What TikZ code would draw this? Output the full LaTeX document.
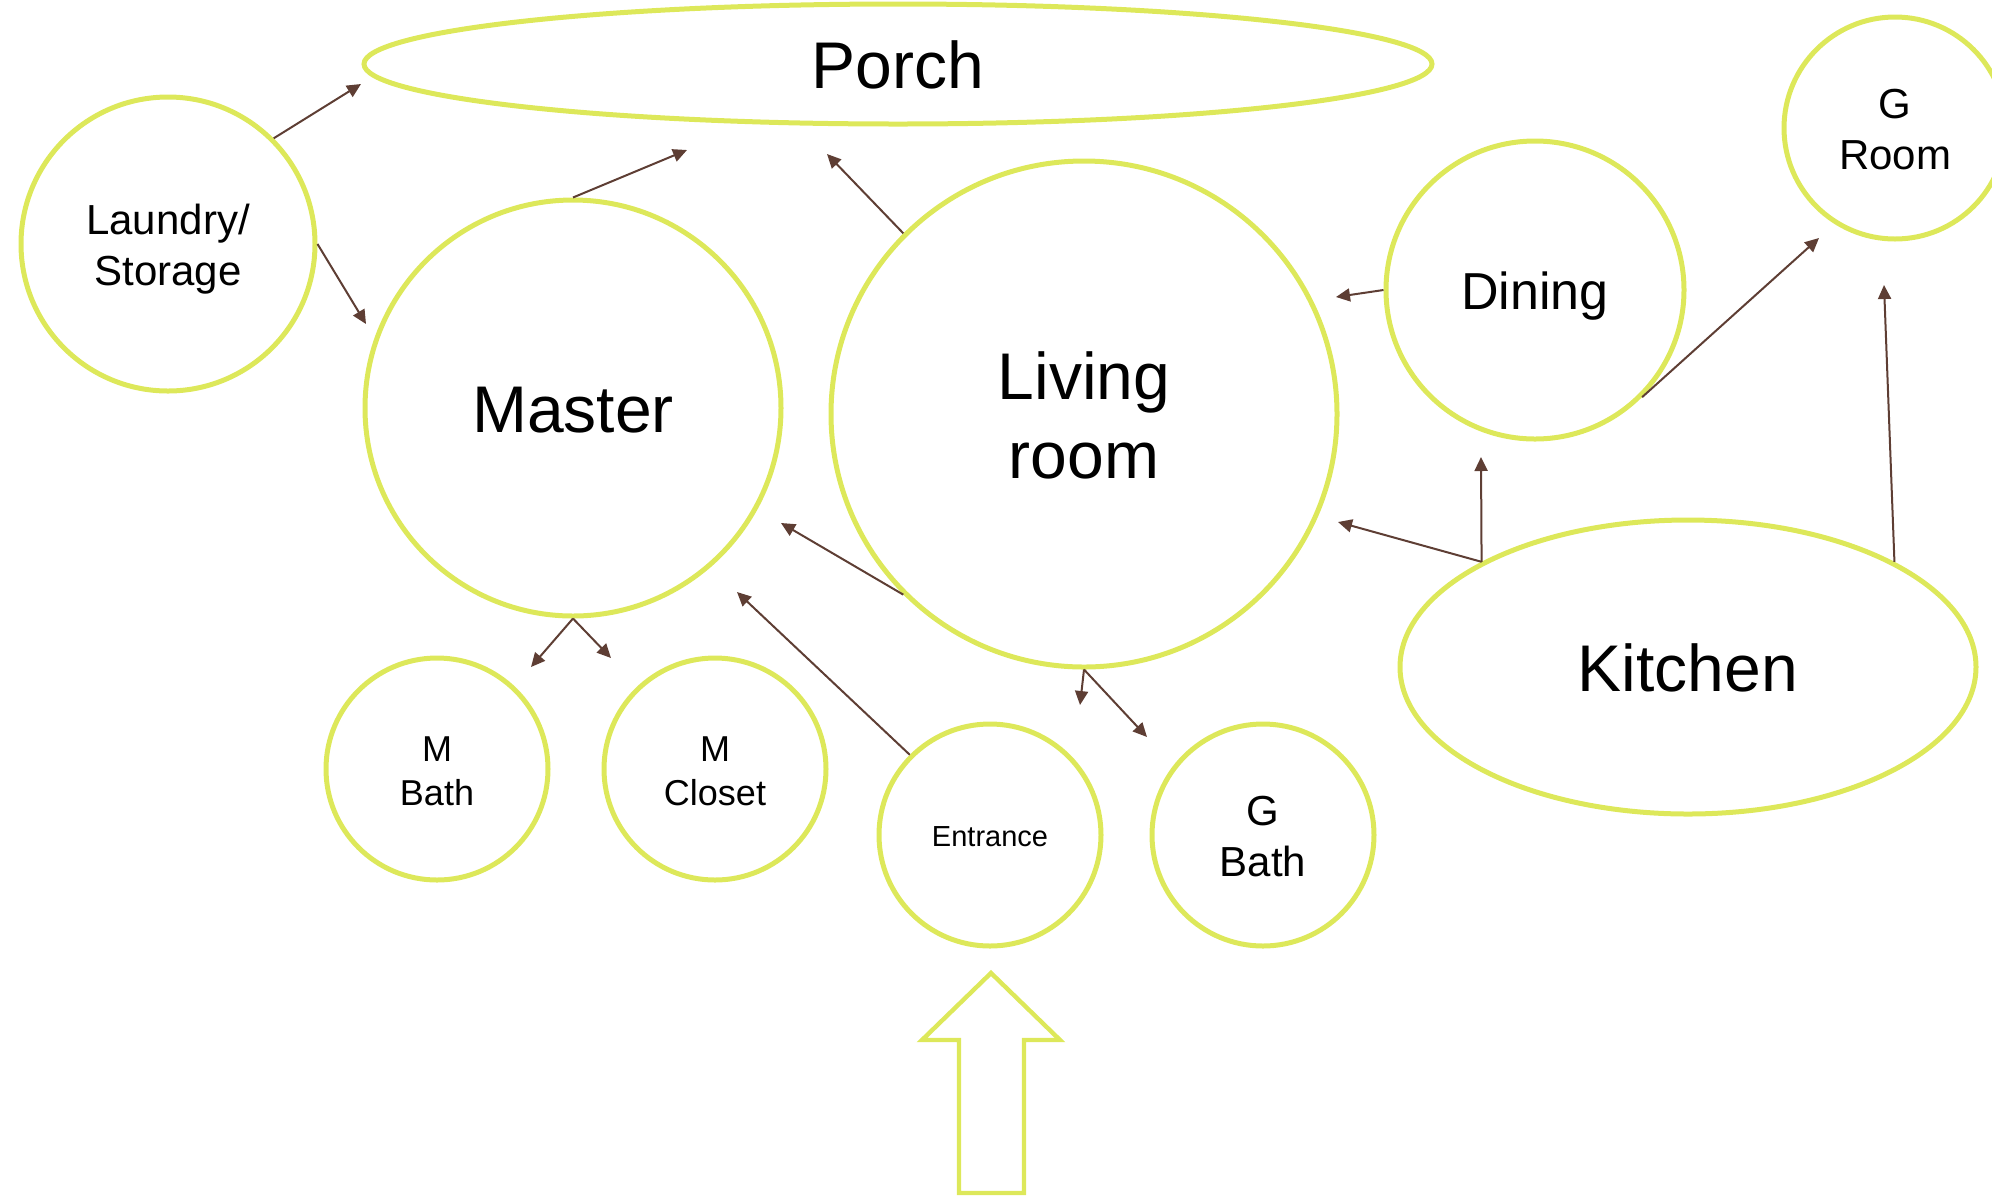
\documentclass[tikz,border=0pt]{standalone}
\usepackage{fontspec}
\setmainfont{Liberation Sans}
\usetikzlibrary{arrows.meta,shapes.geometric}
\definecolor{roomgreen}{RGB}{221,232,90}
\definecolor{linkbrown}{RGB}{94,62,52}
\tikzset{
  room/.style={circle, draw=roomgreen, line width=2.5pt, align=center, inner sep=0pt, text=black},
  oval/.style={ellipse, draw=roomgreen, line width=2.5pt, align=center, inner sep=0pt, text=black},
  link/.style={draw=linkbrown, line width=1pt, -{Triangle[length=7pt,width=6.5pt]}},
  big/.style={font=\fontsize{33}{39.5}\selectfont, text height=31.9pt, text depth=7.0pt},
  bigtwo/.style={font=\fontsize{33}{39.5}\selectfont, text height=71pt, text depth=7.0pt},
  mid/.style={font=\fontsize{26}{31}\selectfont, text height=25pt, text depth=5.5pt},
  norm/.style={font=\fontsize{21}{25.5}\selectfont, text height=46pt, text depth=4.45pt},
  small/.style={font=\fontsize{18}{22}\selectfont, text height=39.8pt, text depth=3.8pt},
  tiny/.style={font=\fontsize{14.5}{17}\selectfont, text height=14.1pt, text depth=3.1pt},
}
\begin{document}
\begin{tikzpicture}[x=0.5pt,y=-0.5pt]
\useasboundingbox (0,0) rectangle (1992,1196);
\clip (0,0) rectangle (1992,1196);
% rooms
\node[oval, big, minimum width=534pt, minimum height=60pt] (porch) at (898,64) {Porch};
\node[room, norm, minimum size=147pt] (laundry) at (168,244) {Laundry/\\Storage};
\node[room, big, minimum size=208pt] (master) at (573,408) {Master};
\node[room, bigtwo, minimum size=253pt] (living) at (1084,414) {Living\\room};
\node[room, mid, minimum size=149pt] (dining) at (1535,290) {Dining};
\node[room, norm, minimum size=111pt] (groom) at (1895,128) {G\\Room};
\node[oval, big, minimum width=288pt, minimum height=147pt] (kitchen) at (1688,667) {Kitchen};
\node[room, small, minimum size=111pt] (mbath) at (437,769) {M\\Bath};
\node[room, small, minimum size=111pt] (mcloset) at (715,769) {M\\Closet};
\node[room, tiny, minimum size=111pt] (entrance) at (990,835) {Entrance};
\node[room, norm, minimum size=111pt] (gbath) at (1263,835) {G\\Bath};
% free arrow ends
\coordinate (e1) at (361,84);
\coordinate (e2) at (366,324);
\coordinate (e3) at (687,150);
\coordinate (e4) at (827,154);
\coordinate (e5) at (1336,297);
\coordinate (e6) at (1819,238);
\coordinate (e7) at (1338,522);
\coordinate (e8) at (1481,457);
\coordinate (e9) at (1884,285);
\coordinate (e10) at (781,523);
\coordinate (e11) at (737,592);
\coordinate (e12) at (531,667);
\coordinate (e13) at (611,658);
\coordinate (e14) at (1080,705);
\coordinate (e15) at (1147,737);
% connectors
\draw[link] (laundry.45) -- (e1);
\draw[link] (laundry.east) -- (e2);
\draw[link] (master.north) -- (e3);
\draw[link] (living.135) -- (e4);
\draw[link] (dining.west) -- (e5);
\draw[link] (dining.-45) -- (e6);
\draw[link] (kitchen.153) -- (e7);
\draw[link] (kitchen.153) -- (e8);
\draw[link] (kitchen.27) -- (e9);
\draw[link] (living.225) -- (e10);
\draw[link] (entrance.135) -- (e11);
\draw[link] (master.south) -- (e12);
\draw[link] (master.south) -- (e13);
\draw[link] (living.south) -- (e14);
\draw[link] (living.south) -- (e15);
% entry block arrow
\draw[roomgreen, line width=2.2pt, line join=miter]
  (991,973) -- (1060,1040) -- (1024,1040) -- (1024,1193) -- (959,1193)
  -- (959,1040) -- (922,1040) -- cycle;
\end{tikzpicture}
\end{document}
